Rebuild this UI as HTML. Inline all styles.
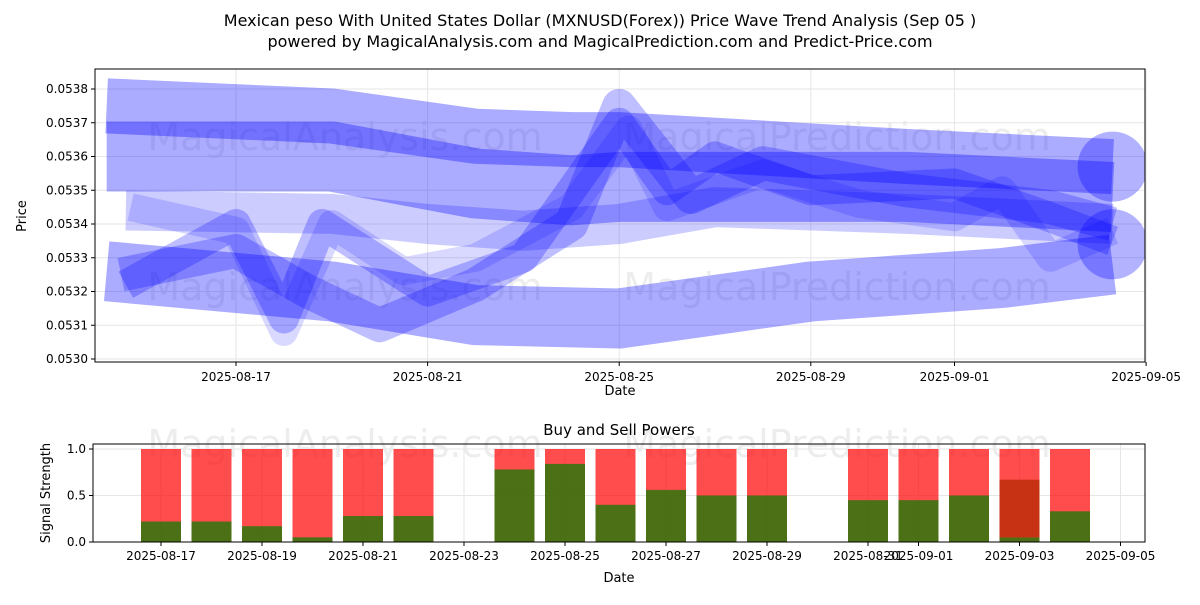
<!DOCTYPE html>
<html><head><meta charset="utf-8"><style>
body{margin:0;background:#fff;font-family:"Liberation Sans","DejaVu Sans",sans-serif;}
svg text{font-family:"DejaVu Sans","Liberation Sans",sans-serif;}
</style></head><body>
<svg id="c" width="1200" height="600" xmlns="http://www.w3.org/2000/svg">
<rect width="1200" height="600" fill="#fff"/>
<text x="600" y="26" text-anchor="middle" font-size="16">Mexican peso With United States Dollar (MXNUSD(Forex)) Price Wave Trend Analysis (Sep 05 )</text>
<text x="600" y="47" text-anchor="middle" font-size="16">powered by MagicalAnalysis.com and MagicalPrediction.com and Predict-Price.com</text>
<g id="topg"></g>
<g id="botg"></g>
</svg>
<script>
// top chart data (x = days offset from 2025-08-17)
const waveA_x=[-2.7,2,5,7,8,14,18.3];
const waveA_y=[0.05375,0.05372,0.05366,0.05365,0.05365,0.05360,0.05357];
const waveB_x=[-2.7,2,5,7,8,14,18.3];
const waveB_y=[0.05360,0.05360,0.05352,0.05350,0.05351,0.05351,0.05348];
const waveC_x=[-2.3,2,4,6,8,10,14,18.3];
const waveC_y=[0.05344,0.05343,0.05340,0.05338,0.05340,0.05345,0.05343,0.05340];
const waveD_x=[-2.7,2,5,8,12,16,18.3];
const waveD_y=[0.05326,0.05320,0.05313,0.05312,0.05320,0.05324,0.05328];
const waveE_x=[-2.3,0,1,1.8,4,6,7,8,9,10,12,15,17,18.3];
const waveE_y=[0.05322,0.05340,0.05312,0.05340,0.05320,0.05330,0.05350,0.05370,0.05350,0.05360,0.05350,0.05352,0.05342,0.05335];
const waveF_x=[-2.4,0,1.5,3,5,7,8,9.5,11,14,17,18.3];
const waveF_y=[0.05325,0.05332,0.05320,0.05310,0.05322,0.05340,0.05375,0.05348,0.05358,0.05350,0.05345,0.05340];
const waveG_x=[-2.2,0,1,2,3.5,5,7,8.2,9,11,13,15,16,17,18.3];
const waveG_y=[0.05345,0.05338,0.05308,0.05340,0.05326,0.05330,0.05345,0.05368,0.05345,0.05355,0.05346,0.05342,0.05350,0.05330,0.05338];
const endDots_y=[0.05357,0.05334];
const yTicks=[0.0530,0.0531,0.0532,0.0533,0.0534,0.0535,0.0536,0.0537,0.0538];
const xTickDays=[0,4,8,12,15,19];
const xTickLabels=["2025-08-17","2025-08-21","2025-08-25","2025-08-29","2025-09-01","2025-09-05"];
// bottom chart data (x = days offset from 2025-08-17)
const barDays=[0,1,2,3,4,5,7,8,9,10,11,12,14,15,16,17,18];
const buyVals=[0.22,0.22,0.17,0.05,0.28,0.28,0.78,0.84,0.40,0.56,0.50,0.50,0.45,0.45,0.50,0.05,0.33];
const sellVals=[1,1,1,1,1,1,1,1,1,1,1,1,1,1,1,1,1];
const bTickDays=[0,2,4,6,8,10,12,14,15,17,19];
const bTickLabels=["2025-08-17","2025-08-19","2025-08-21","2025-08-23","2025-08-25","2025-08-27","2025-08-29","2025-08-31","2025-09-01","2025-09-03","2025-09-05"];
const bYTicks=[0,0.5,1];

const NS="http://www.w3.org/2000/svg";
function mk(p,t,a,txt){const e=document.createElementNS(NS,t);for(const k in a)e.setAttribute(k,a[k]);if(txt!==undefined)e.textContent=txt;p.appendChild(e);return e;}
const topG=document.getElementById('topg'),botG=document.getElementById('botg');
const L=95,R=1145,T=69,B=362;
const xs=d=>236+d*47.9, ys=v=>89+(0.0538-v)/0.0001*33.75;
[[345,150,"MagicalAnalysis.com"],[837,150,"MagicalPrediction.com"],[345,300,"MagicalAnalysis.com"],[837,300,"MagicalPrediction.com"],[345,457,"MagicalAnalysis.com"],[837,457,"MagicalPrediction.com"]].forEach(w=>{
 const t=mk(topG,'text',{x:w[0],y:w[1],'text-anchor':'middle','font-size':38,fill:'#000','fill-opacity':0.07},w[2]);
 
 
});
const grid=mk(topG,'g',{});
yTicks.forEach(v=>{const y=ys(v);
 mk(grid,'line',{x1:L,x2:R,y1:y,y2:y,stroke:'#e6e6e6'});
 mk(topG,'line',{x1:L-4,x2:L,y1:y,y2:y,stroke:'#000'});
 const t=mk(topG,'text',{x:L-7,y:y+4,'text-anchor':'end','font-size':12},v.toFixed(4));
 
 
});
xTickDays.forEach((d,i)=>{const x=xs(d);
 mk(grid,'line',{x1:x,x2:x,y1:T,y2:B,stroke:'#e6e6e6'});
 mk(topG,'line',{x1:x,x2:x,y1:B,y2:B+4,stroke:'#000'});
 const t=mk(topG,'text',{x:x,y:B+19,'text-anchor':'middle','font-size':12},xTickLabels[i]);
 
 
});
const clip=mk(topG,'clipPath',{id:'cp'});mk(clip,'rect',{x:L,y:T,width:R-L,height:B-T});
const wg=mk(topG,'g',{'clip-path':'url(#cp)'});
const waves=[[waveA_x,waveA_y,55,0.33],[waveB_x,waveB_y,70,0.33],[waveC_x,waveC_y,40,0.2],[waveD_x,waveD_y,60,0.33],[waveE_x,waveE_y,30,0.25],[waveF_x,waveF_y,34,0.25],[waveG_x,waveG_y,28,0.15]];
waves.forEach((w,i)=>{
 const pts=w[0].map((d,j)=>xs(d)+','+ys(w[1][j])).join(' ');
 const p=mk(wg,'polyline',{points:pts,fill:'none',stroke:'#0000ff','stroke-opacity':w[3],'stroke-width':w[2],'stroke-linejoin':'round'});
 
 
});
endDots_y.forEach(v=>{const c=mk(wg,'circle',{cx:xs(18.3),cy:ys(v),r:35,fill:'#0000ff','fill-opacity':0.3});
 
 
});
mk(topG,'rect',{x:L,y:T,width:R-L,height:B-T,fill:'none',stroke:'#000'});
let t=mk(topG,'text',{x:620,y:395,'text-anchor':'middle','font-size':13},'Date');
t=mk(topG,'text',{x:26,y:216,'text-anchor':'middle','font-size':13,transform:'rotate(-90 26 216)'},'Price');

const bL=93,bR=1145,bT=444,bB=542;
const bx=d=>161+d*50.5, by=v=>542-v*93;
bYTicks.forEach(v=>{const y=by(v);
 mk(botG,'line',{x1:bL,x2:bR,y1:y,y2:y,stroke:'#e6e6e6'});
 mk(botG,'line',{x1:bL-4,x2:bL,y1:y,y2:y,stroke:'#000'});
 const t=mk(botG,'text',{x:bL-7,y:y+4,'text-anchor':'end','font-size':12},v.toFixed(1));
 
});
bTickDays.forEach((d,i)=>{const x=bx(d);
 mk(botG,'line',{x1:x,x2:x,y1:bT,y2:bB,stroke:'#e6e6e6'});
 mk(botG,'line',{x1:x,x2:x,y1:bB,y2:bB+4,stroke:'#000'});
 const t=mk(botG,'text',{x:x,y:bB+18,'text-anchor':'middle','font-size':12},bTickLabels[i]);
 
});
barDays.forEach((d,i)=>{const x=bx(d)-20;
 const s=mk(botG,'rect',{x:x,y:by(sellVals[i]),width:40,height:by(0)-by(sellVals[i]),fill:'#ff0000','fill-opacity':0.7});
 
 const b=mk(botG,'rect',{x:x,y:by(buyVals[i]),width:40,height:by(0)-by(buyVals[i]),fill:'#008000','fill-opacity':0.7});
 
});
const ov=mk(botG,'rect',{x:bx(17)-20,y:by(0.67),width:40,height:by(0.05)-by(0.67),fill:'#c83214'});

mk(botG,'rect',{x:bL,y:bT,width:bR-bL,height:bB-bT,fill:'none',stroke:'#000'});
t=mk(botG,'text',{x:619,y:435,'text-anchor':'middle','font-size':15},'Buy and Sell Powers');
t=mk(botG,'text',{x:619,y:582,'text-anchor':'middle','font-size':13},'Date');
t=mk(botG,'text',{x:50,y:493,'text-anchor':'middle','font-size':13,transform:'rotate(-90 50 493)'},'Signal Strength');
</script>
</body></html>
